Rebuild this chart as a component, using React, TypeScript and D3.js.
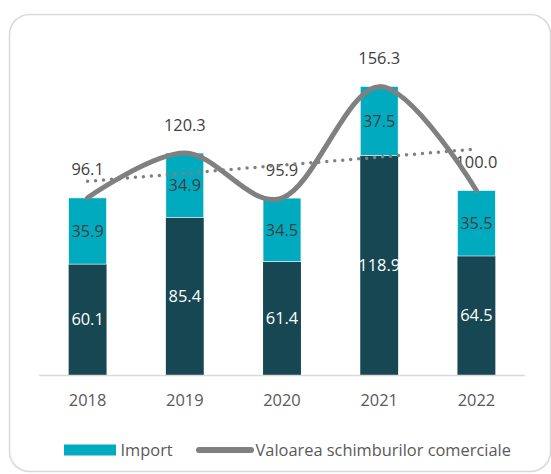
import React from "react";
import * as d3 from "d3";

const years = ["2018", "2019", "2020", "2021", "2022"];
const exportVals = [60.1, 85.4, 61.4, 118.9, 64.5];
const importVals = [35.9, 34.9, 34.5, 37.5, 35.5];
const totalVals = [96.1, 120.3, 95.9, 156.3, 100.0];
const legendLabels = ["Import", "Valoarea schimburilor comerciale"];

const W = 551;
const H = 474;
const FONT = "'Open Sans', Lato, sans-serif";
const FS = 16.4;
const DARK = "#164752";
const CYAN = "#00ABC0";
const GREY = "#808080";

export default function App() {
  const x = d3.scaleBand<string>().domain(years).range([39, 525]).padding(0);
  const y = d3.scaleLinear().domain([0, 160]).range([375, 375 - 160 * 1.845]);
  const barW = x.step() * 0.39;
  const cx = (i: number) => (x(years[i]) as number) + x.bandwidth() / 2;

  const line = d3
    .line<number>()
    .x((_, i) => cx(i))
    .y((d) => y(d))
    .curve(d3.curveCardinal.tension(0));

  // linear trend of totals
  const n = totalVals.length;
  const xs = totalVals.map((_, i) => i + 1);
  const mx = d3.mean(xs) as number;
  const my = d3.mean(totalVals) as number;
  const slope =
    d3.sum(xs.map((xi, i) => (xi - mx) * (totalVals[i] - my))) /
    d3.sum(xs.map((xi) => (xi - mx) ** 2));
  const trend = (xi: number) => my + slope * (xi - mx);

  return (
    <svg
      width={W}
      height={H}
      style={{ position: "absolute", left: 0, top: 0, display: "block" }}
      fontFamily={FONT}
    >
      <rect x={0} y={0} width={W} height={H} fill="#fff" />
      <rect
        x={9.5}
        y={14.5}
        width={541}
        height={457}
        rx={20}
        fill="#fff"
        stroke="#d9d9d9"
        strokeWidth={1.5}
      />
      {/* bars */}
      {years.map((yr, i) => {
        const x0 = cx(i) - barW / 2;
        return (
          <g key={yr}>
            <rect
              x={x0}
              y={y(exportVals[i])}
              width={barW}
              height={y(0) - y(exportVals[i])}
              fill={DARK}
            />
            <rect
              x={x0}
              y={y(exportVals[i] + importVals[i])}
              width={barW}
              height={y(exportVals[i]) - y(exportVals[i] + importVals[i])}
              fill={CYAN}
              stroke="#fff"
              strokeWidth={0.6}
            />
          </g>
        );
      })}
      {/* axis */}
      <line x1={39} x2={525} y1={375.5} y2={375.5} stroke="#d9d9d9" strokeWidth={1.5} />
      {years.map((yr, i) => (
        <text key={yr} x={cx(i)} y={400} dy="0.35em" textAnchor="middle" fontSize={FS} fill="#595959">
          {yr}
        </text>
      ))}
      {/* segment labels */}
      {years.map((yr, i) => (
        <g key={"l" + yr}>
          <text
            x={cx(i)}
            y={(y(0) + y(exportVals[i])) / 2}
            dy="0.35em"
            textAnchor="middle"
            fontSize={FS}
            fill="#fff"
          >
            {exportVals[i].toFixed(1)}
          </text>
          <text
            x={cx(i)}
            y={(y(exportVals[i]) + y(exportVals[i] + importVals[i])) / 2}
            dy="0.35em"
            textAnchor="middle"
            fontSize={FS}
            fill="#404040"
          >
            {importVals[i].toFixed(1)}
          </text>
          <text
            x={cx(i)}
            y={y(totalVals[i]) - 28}
            dy="0.35em"
            textAnchor="middle"
            fontSize={FS}
            fill="#404040"
          >
            {totalVals[i].toFixed(1)}
          </text>
        </g>
      ))}
      {/* trend */}
      <line
        x1={cx(0)}
        y1={y(trend(1))}
        x2={cx(n - 1)}
        y2={y(trend(n))}
        stroke={GREY}
        strokeWidth={3.5}
        strokeLinecap="round"
        strokeDasharray="0 8"
      />
      {/* total line */}
      <path d={line(totalVals) as string} fill="none" stroke={GREY} strokeWidth={5} strokeLinecap="round" />
      {/* legend */}
      <rect x={64} y={444.5} width={52} height={11} fill={CYAN} />
      <text x={120.5} y={450} dy="0.35em" fontSize={FS} fill="#595959">
        {legendLabels[0]}
      </text>
      <line x1={199} x2={251} y1={450} y2={450} stroke={GREY} strokeWidth={6} strokeLinecap="round" />
      <text x={255.5} y={450} dy="0.35em" fontSize={FS} fill="#595959">
        {legendLabels[1]}
      </text>
    </svg>
  );
}
